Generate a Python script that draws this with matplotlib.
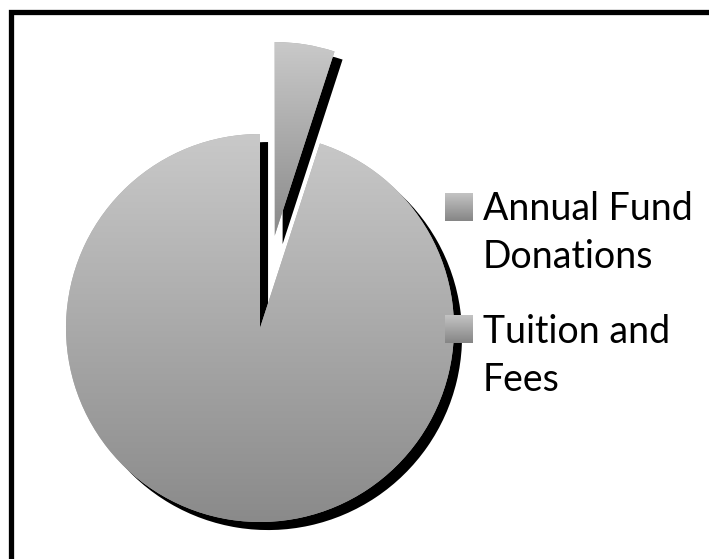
import numpy as np
import matplotlib.pyplot as plt
from matplotlib.colors import LinearSegmentedColormap
from matplotlib.patches import Rectangle
import matplotlib.patheffects as pe

# data
labels = ['Annual Fund Donations', 'Tuition and Fees']
legend_lines = [['Annual Fund', 'Donations'], ['Tuition and', 'Fees']]
shares = [5, 95]
explode = [0.48, 0.0]   # fraction of the radius

W, H = 709, 559
fig = plt.figure(figsize=(W / 100, H / 100), dpi=100)
ax = fig.add_axes([0, 0, 1, 1])

# pixel-space axes, y measured up from the bottom
cx, cy, r = 260, H - 328, 194
cmap = LinearSegmentedColormap.from_list('gr', ['#c9c9c9', '#8a8a8a'])
grad = np.linspace(0, 1, 256).reshape(-1, 1)

wedges, _ = ax.pie(shares, startangle=90, counterclock=False,
                   explode=[e * r for e in explode],
                   center=(cx, cy), radius=r, colors=['#aaaaaa'] * 2,
                   wedgeprops=dict(linewidth=0))
shadow = [pe.SimplePatchShadow(offset=(5.8, -5.8), shadow_rgbFace='black', alpha=1.0),
          pe.Normal()]
for w in wedges:
    w.set_path_effects(shadow)
    w.set_clip_on(False)
    v = w.get_path().vertices
    im = ax.imshow(grad, cmap=cmap, extent=[v[:, 0].min(), v[:, 0].max(),
                                            v[:, 1].min(), v[:, 1].max()],
                   origin='upper', aspect='auto', zorder=2)
    im.set_clip_path(w)

# legend, drawn by hand so the swatch sits on the first line
sq = 28
for i, lines in enumerate(legend_lines):
    top = 193 + i * 122
    ax.imshow(grad, cmap=LinearSegmentedColormap.from_list('lg', ['#c4c4c4', '#858585']),
              extent=[445, 445 + sq, H - top - sq, H - top], origin='upper',
              aspect='auto', zorder=3)
    for j, line in enumerate(lines):
        ax.text(483, H - (220 + i * 123 + j * 48), line, fontsize=27,
                family=['Lato', 'DejaVu Sans'], va='baseline', ha='left', color='black')

# outer frame (right and bottom edges lie outside the picture)
ax.add_patch(Rectangle((11, -60), 900, H - 11.5 + 60, fill=False, lw=3.8,
                       edgecolor='black', clip_on=False))

ax.set_xlim(0, W)
ax.set_ylim(0, H)
ax.set_aspect('auto')
ax.axis('off')

fig.savefig('out.png', dpi=100)
